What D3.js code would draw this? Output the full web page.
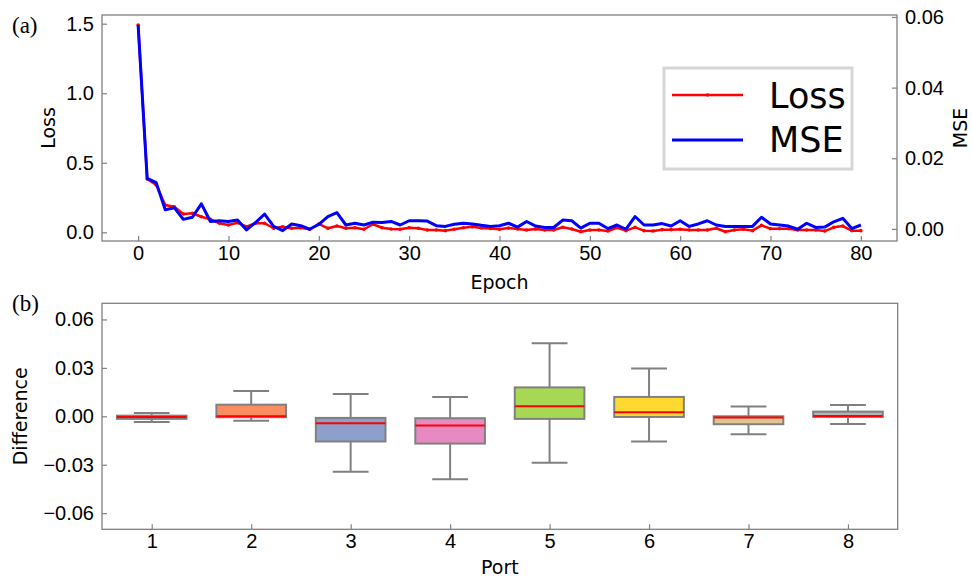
<!DOCTYPE html>
<html>
<head>
<meta charset="utf-8">
<script src="https://cdn.jsdelivr.net/npm/d3@7"></script>
<style>
	body { margin: 0; background: #fff; }
	svg { font-family: "DejaVu Sans", sans-serif; }
</style>
</head>
<body>
<div id="chart"></div>
<script>
(function(){
	// (a) training curves, one value per epoch
	var epochs = d3.range(0, 81);
	var loss = [1.49, 0.383, 0.34, 0.196, 0.184, 0.132, 0.137, 0.112, 0.094, 0.065,
		0.053, 0.069, 0.04, 0.065, 0.065, 0.029, 0.04, 0.029, 0.033, 0.022,
		0.06, 0.029, 0.045, 0.029, 0.033, 0.022, 0.058, 0.033, 0.024, 0.022,
		0.033, 0.029, 0.017, 0.017, 0.012, 0.022, 0.033, 0.04, 0.031, 0.027,
		0.022, 0.031, 0.024, 0.017, 0.024, 0.017, 0.017, 0.036, 0.024, 0.004,
		0.017, 0.017, 0.009, 0.033, 0.012, 0.036, 0.012, 0.009, 0.019, 0.019,
		0.022, 0.017, 0.017, 0.017, 0.029, 0.004, 0.017, 0.022, 0.012, 0.05,
		0.026, 0.026, 0.026, 0.017, 0.017, 0.017, 0.009, 0.036, 0.045, 0.012, 0.012];
	var mse = [0.0577, 0.0143, 0.0131, 0.0054, 0.006, 0.0027, 0.0033, 0.0071, 0.0021, 0.0023,
		0.0021, 0.0025, -0.0003, 0.0018, 0.0042, 0.0007, -0.0005, 0.0014, 0.0009, -0.0001,
		0.0013, 0.0035, 0.0046, 0.0011, 0.0016, 0.0011, 0.0019, 0.0018, 0.0021, 0.0011,
		0.0023, 0.0023, 0.0022, 0.0009, 0.0007, 0.0013, 0.0016, 0.0014, 0.001, 0.0007,
		0.0009, 0.0016, 0.0005, 0.0021, 0.0008, 0.0004, 0.0004, 0.0025, 0.0023, 0.0002,
		0.0016, 0.0016, 0.0001, 0.0011, -0.0001, 0.0035, 0.0011, 0.0011, 0.0015, 0.0008,
		0.0023, 0.0007, 0.0014, 0.0023, 0.0011, 0.0007, 0.0007, 0.0007, 0.0007, 0.0033,
		0.0014, 0.0011, 0.0008, -0.0001, 0.0016, 0.0004, 0.0005, 0.002, 0.003, 0.0001, 0.0011];
	var lossTicks = [0.0, 0.5, 1.0, 1.5];
	var mseTicks = [0.00, 0.02, 0.04, 0.06];
	var epochTicks = [0, 10, 20, 30, 40, 50, 60, 70, 80];

	// (b) box plot per port
	var ports = [1, 2, 3, 4, 5, 6, 7, 8];
	var whiskerLow = [-0.0035, -0.0028, -0.0343, -0.039, -0.0288, -0.0156, -0.0111, -0.0047];
	var q1 = [-0.0016, -0.0006, -0.0156, -0.0169, -0.0016, -0.0004, -0.0049, -0.0004];
	var median = [-0.0005, 0.0, -0.0043, -0.0057, 0.0062, 0.0025, -0.0008, 0.0002];
	var q3 = [0.0004, 0.0072, -0.001, -0.0012, 0.0179, 0.012, 0.0, 0.0029];
	var whiskerHigh = [0.0021, 0.0157, 0.0138, 0.012, 0.0453, 0.0296, 0.006, 0.007];
	var boxColors = ["#66c2a5", "#fc8d62", "#8da0cb", "#e78ac3", "#a6d854", "#ffd92f", "#e5c494", "#b3b3b3"];
	var diffTicks = [-0.06, -0.03, 0.00, 0.03, 0.06];

	var width = 972, height = 578;
	var spine = "#808080";

	var svg = d3.select("#chart").append("svg")
		.attr("width", width)
		.attr("height", height);

	/*
	Panel (a)
	*/
	var a = {left: 102, right: 897, top: 15, bottom: 241};

	var x = d3.scaleLinear().domain([-4, 84]).range([a.left, a.right]);
	var yLoss = d3.scaleLinear().domain([-0.0625, 1.5626]).range([a.bottom, a.top]);
	var yMse = d3.scaleLinear().domain([-0.00343, 0.06056]).range([a.bottom, a.top]);

	function styleAxis(g) {
		g.select(".domain").remove();
		g.selectAll(".tick line").attr("stroke", spine).attr("stroke-width", 1.2);
		g.selectAll(".tick text").attr("fill", "#000").style("font-size", "20px");
	}

	svg.append("g")
		.attr("transform", "translate(" + a.left + ",0)")
		.call(d3.axisLeft(yLoss).tickValues(lossTicks).tickFormat(d3.format(".1f")).tickSize(-5).tickPadding(8))
		.call(styleAxis);

	svg.append("g")
		.attr("transform", "translate(" + a.right + ",0)")
		.call(d3.axisRight(yMse).tickValues(mseTicks).tickFormat(d3.format(".2f")).tickSize(-5).tickPadding(8))
		.call(styleAxis);

	svg.append("g")
		.attr("transform", "translate(0," + a.bottom + ")")
		.call(d3.axisBottom(x).tickValues(epochTicks).tickSize(-5).tickPadding(5))
		.call(styleAxis);

	var lossLine = d3.line()
		.x(function(d, i) { return x(epochs[i]); })
		.y(function(d) { return yLoss(d); });
	var mseLine = d3.line()
		.x(function(d, i) { return x(epochs[i]); })
		.y(function(d) { return yMse(d); });

	svg.append("path")
		.datum(loss)
		.attr("d", lossLine)
		.attr("fill", "none")
		.attr("stroke", "#ff0000")
		.attr("stroke-width", 2.5)
		.attr("stroke-linejoin", "round");

	svg.append("g")
		.selectAll("circle")
		.data(loss)
		.enter()
		.append("circle")
		.attr("cx", function(d, i) { return x(epochs[i]); })
		.attr("cy", function(d) { return yLoss(d); })
		.attr("r", 1.8)
		.attr("fill", "#ff0000");

	svg.append("path")
		.datum(mse)
		.attr("d", mseLine)
		.attr("fill", "none")
		.attr("stroke", "#0000ff")
		.attr("stroke-width", 3)
		.attr("stroke-linejoin", "round");

	svg.append("rect")
		.attr("x", a.left).attr("y", a.top)
		.attr("width", a.right - a.left).attr("height", a.bottom - a.top)
		.attr("fill", "none").attr("stroke", spine).attr("stroke-width", 1.3);

	// legend
	var legend = svg.append("g");
	legend.append("rect")
		.attr("x", 664).attr("y", 68).attr("width", 188).attr("height", 101)
		.attr("fill", "#fff").attr("stroke", "#d6d6d6").attr("stroke-width", 3);
	legend.append("line")
		.attr("x1", 672).attr("x2", 743).attr("y1", 95).attr("y2", 95)
		.attr("stroke", "#ff0000").attr("stroke-width", 2.5);
	legend.append("circle")
		.attr("cx", 707.5).attr("cy", 95).attr("r", 1.8).attr("fill", "#ff0000");
	legend.append("line")
		.attr("x1", 672).attr("x2", 743).attr("y1", 140).attr("y2", 140)
		.attr("stroke", "#0000ff").attr("stroke-width", 3);
	legend.append("text")
		.attr("x", 769).attr("y", 108).style("font-size", "35px").text("Loss");
	legend.append("text")
		.attr("x", 769).attr("y", 152).style("font-size", "35px").text("MSE");

	svg.append("text")
		.attr("transform", "translate(55," + (a.top + a.bottom) / 2 + ") rotate(-90)")
		.attr("text-anchor", "middle").style("font-size", "19px").text("Loss");
	svg.append("text")
		.attr("transform", "translate(967," + (a.top + a.bottom) / 2 + ") rotate(-90)")
		.attr("text-anchor", "middle").style("font-size", "19px").text("MSE");
	svg.append("text")
		.attr("x", (a.left + a.right) / 2).attr("y", 289)
		.attr("text-anchor", "middle").style("font-size", "19px").text("Epoch");
	svg.append("text")
		.attr("x", 12).attr("y", 33)
		.style("font-family", "'Liberation Serif', serif").style("font-size", "23px").text("(a)");

	/*
	Panel (b)
	*/
	var b = {left: 102, right: 897.7, top: 303.3, bottom: 529.3};

	var xp = d3.scaleLinear().domain([0.5, 8.5]).range([b.left, b.right]);
	var yd = d3.scaleLinear().domain([-0.07, 0.07]).range([b.bottom, b.top]);

	svg.append("g")
		.attr("transform", "translate(" + b.left + ",0)")
		.call(d3.axisLeft(yd).tickValues(diffTicks).tickFormat(function(d) {
			return d3.format(".2f")(d).replace("-", "\u2212");
		}).tickSize(-5).tickPadding(8))
		.call(styleAxis);

	svg.append("g")
		.attr("transform", "translate(0," + b.bottom + ")")
		.call(d3.axisBottom(xp).tickValues(ports).tickSize(-5).tickPadding(5))
		.call(styleAxis);

	var boxW = 0.7, capW = 0.36;
	var boxes = svg.append("g")
		.selectAll("g")
		.data(ports)
		.enter()
		.append("g");

	boxes.append("line")
		.attr("x1", function(d) { return xp(d); })
		.attr("x2", function(d) { return xp(d); })
		.attr("y1", function(d, i) { return yd(whiskerHigh[i]); })
		.attr("y2", function(d, i) { return yd(whiskerLow[i]); })
		.attr("stroke", spine).attr("stroke-width", 2);

	[whiskerHigh, whiskerLow].forEach(function(arr) {
		boxes.append("line")
			.attr("x1", function(d) { return xp(d - capW / 2); })
			.attr("x2", function(d) { return xp(d + capW / 2); })
			.attr("y1", function(d, i) { return yd(arr[i]); })
			.attr("y2", function(d, i) { return yd(arr[i]); })
			.attr("stroke", spine).attr("stroke-width", 2);
	});

	boxes.append("rect")
		.attr("x", function(d) { return xp(d - boxW / 2); })
		.attr("width", xp(boxW) - xp(0))
		.attr("y", function(d, i) { return yd(q3[i]); })
		.attr("height", function(d, i) { return yd(q1[i]) - yd(q3[i]); })
		.attr("fill", function(d, i) { return boxColors[i]; })
		.attr("stroke", spine).attr("stroke-width", 2);

	boxes.append("line")
		.attr("x1", function(d) { return xp(d - boxW / 2); })
		.attr("x2", function(d) { return xp(d + boxW / 2); })
		.attr("y1", function(d, i) { return yd(median[i]); })
		.attr("y2", function(d, i) { return yd(median[i]); })
		.attr("stroke", "#ff0000").attr("stroke-width", 2);

	svg.append("rect")
		.attr("x", b.left).attr("y", b.top)
		.attr("width", b.right - b.left).attr("height", b.bottom - b.top)
		.attr("fill", "none").attr("stroke", spine).attr("stroke-width", 1.3);

	svg.append("text")
		.attr("transform", "translate(27," + (b.top + b.bottom) / 2 + ") rotate(-90)")
		.attr("text-anchor", "middle").style("font-size", "19px").text("Difference");
	svg.append("text")
		.attr("x", (b.left + b.right) / 2).attr("y", 574)
		.attr("text-anchor", "middle").style("font-size", "19px").text("Port");
	svg.append("text")
		.attr("x", 12).attr("y", 311)
		.style("font-family", "'Liberation Serif', serif").style("font-size", "23px").text("(b)");
})();
</script>
</body>
</html>
